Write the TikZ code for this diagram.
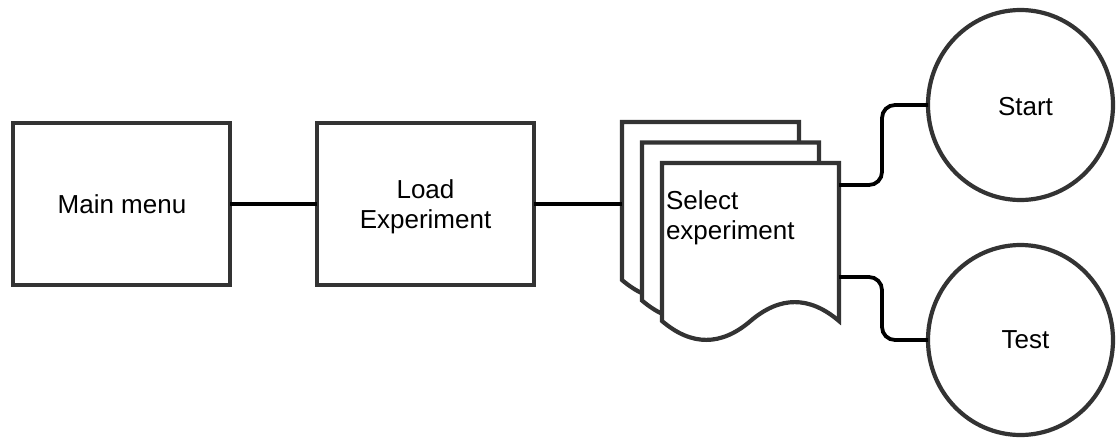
\documentclass[tikz,border=0pt]{standalone}
\usepackage{fontspec}
\setmainfont{Liberation Sans}
\usetikzlibrary{shapes.geometric}
\definecolor{strokegray}{RGB}{51,51,51}
\tikzset{
  box/.style={draw=strokegray, line width=4.2pt, fill=white, rectangle,
    minimum width=217pt, minimum height=162pt, inner sep=0pt, outer sep=0pt},
  endpoint/.style={draw=strokegray, line width=4.2pt, fill=white, ellipse,
    minimum width=185pt, minimum height=190pt, inner sep=0pt, outer sep=0pt},
  conn/.style={draw=black, line width=3.8pt},
  lbl/.style={font=\fontsize{26}{30}\selectfont, inner sep=0pt, outer sep=0pt},
  sheetline/.style={draw=strokegray, line width=4.2pt, fill=white, line join=miter},
  docsheet/.pic={
    \path[sheetline] (0,0) -- (177,0) -- (177,158)
      .. controls (147.5,132.8) and (118,132.8) .. (88.5,158)
      .. controls (59,183.2) and (29.5,183.2) .. (0,158) -- cycle;
  }
}
\begin{document}
\begin{tikzpicture}[x=1pt,y=-1pt]
  \useasboundingbox (0,0) rectangle (1117,439);

  % process boxes
  \node[box] (main) at (121.5,204) {};
  \node[box] (load) at (425.5,204) {};
  \node[lbl, anchor=base] (maintxt) at (122,213) {Main menu};
  \node[lbl, anchor=base, align=center] (loadtxt) at (425.5,228) {Load\\Experiment};

  % stack of documents, back to front
  \pic at (622,122) {docsheet};
  \pic at (642,142.5) {docsheet};
  \pic at (662,163) {docsheet};
  \node[inner sep=0pt, outer sep=0pt, minimum width=177pt, minimum height=158pt,
        anchor=north west] (select) at (662,163) {};
  \node[lbl, anchor=base west, align=left] (seltxt) at (666,239) {Select\\experiment};
  \coordinate (stackin) at (622,204);
  \coordinate (outstart) at (839,185);
  \coordinate (outtest) at (839,277);

  % terminal circles
  \node[endpoint] (start) at (1020.5,105) {};
  \node[endpoint] (test) at (1020.5,340) {};
  \node[lbl, anchor=base] (starttxt) at (1025.5,115) {Start};
  \node[lbl, anchor=base] (testtxt) at (1025.5,348) {Test};

  % connectors
  \draw[conn] (main) -- (load);
  \draw[conn] (load.east) -- (stackin);
  \draw[conn, rounded corners=13pt] (outstart) -- ++(43,0) |- (start);
  \draw[conn, rounded corners=13pt] (outtest) -- ++(43,0) |- (test);
\end{tikzpicture}
\end{document}
